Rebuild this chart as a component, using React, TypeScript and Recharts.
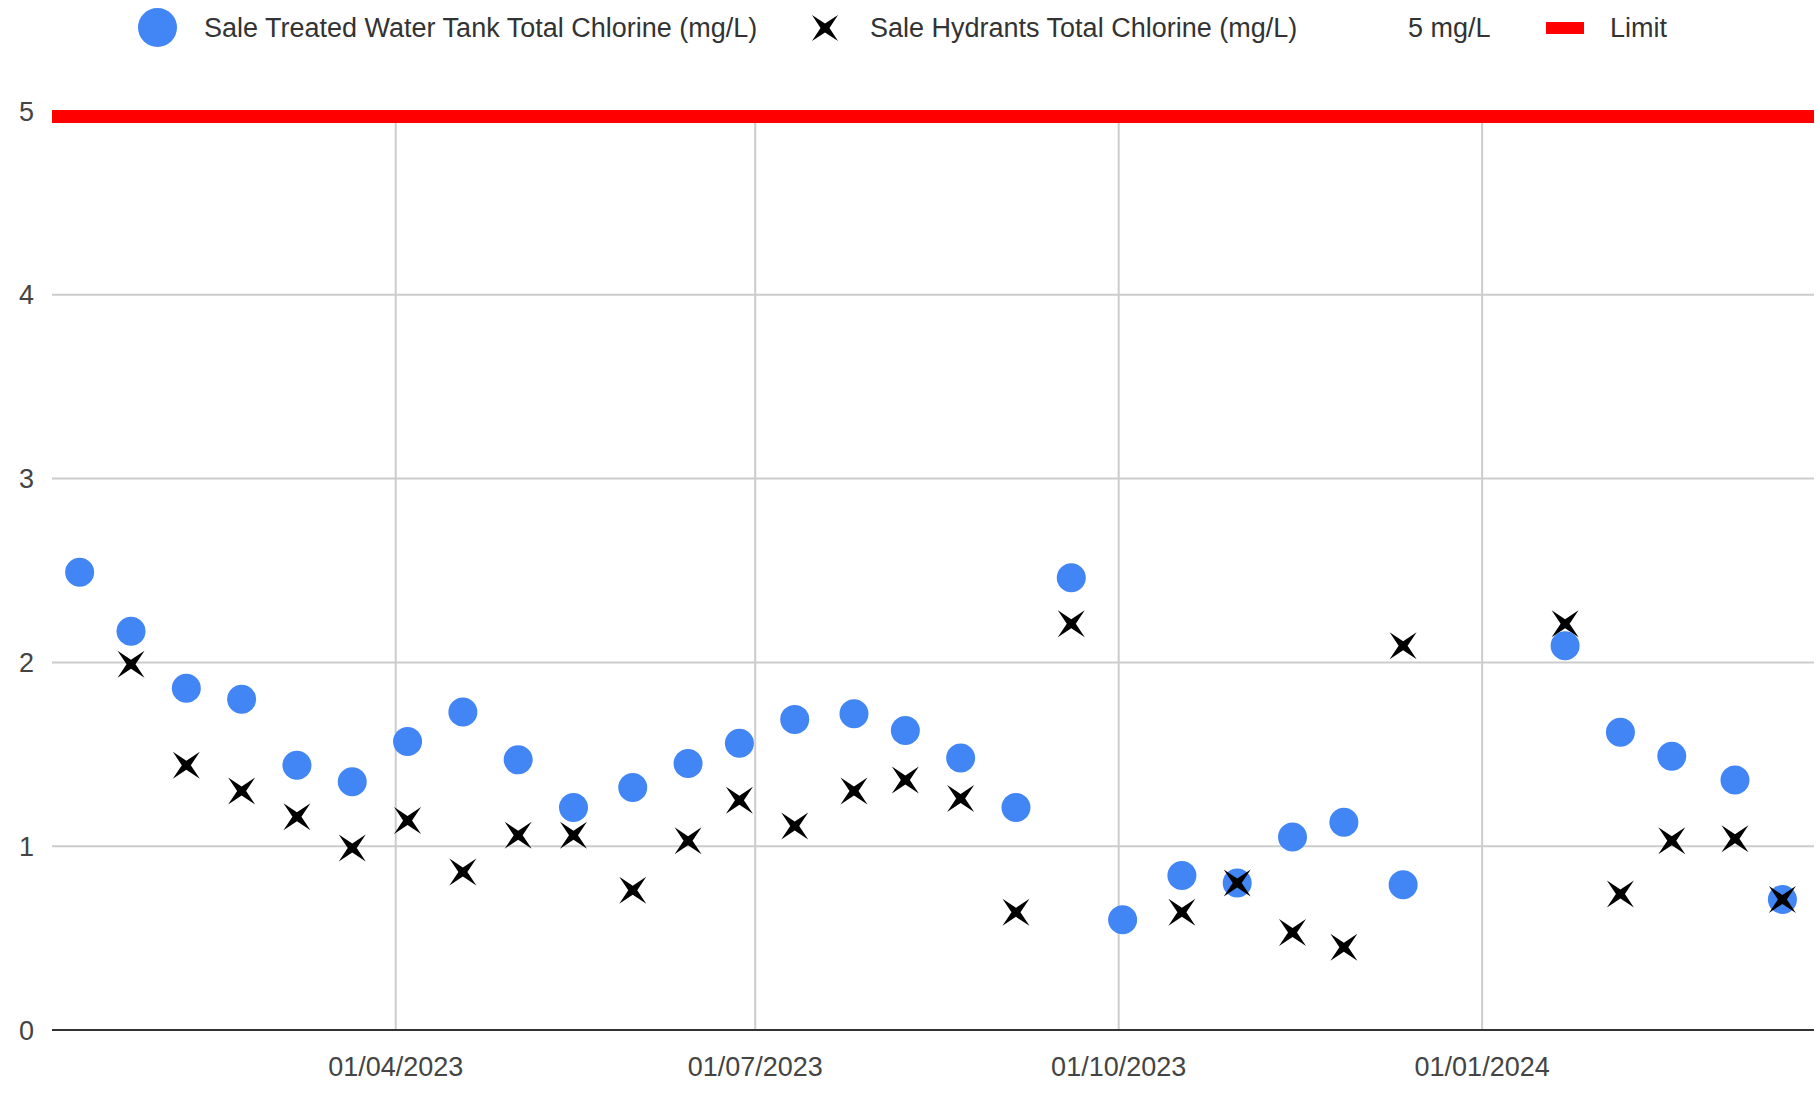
import React from "react";
import {
  ScatterChart,
  Scatter,
  XAxis,
  YAxis,
  CartesianGrid,
  ReferenceLine,
} from "recharts";

// sampling dates (biweekly)
const sampleDates = [
  "2023-01-11", "2023-01-24", "2023-02-07", "2023-02-21", "2023-03-07",
  "2023-03-21", "2023-04-04", "2023-04-18", "2023-05-02", "2023-05-16",
  "2023-05-31", "2023-06-14", "2023-06-27", "2023-07-11", "2023-07-26",
  "2023-08-08", "2023-08-22", "2023-09-05", "2023-09-19", "2023-10-02",
  "2023-10-17", "2023-10-31", "2023-11-14", "2023-11-27", "2023-12-12",
  "2024-01-22", "2024-02-05", "2024-02-18", "2024-03-05", "2024-03-17",
];

// Sale Treated Water Tank Total Chlorine (mg/L)
const tankChlorine = [
  2.49, 2.17, 1.86, 1.8, 1.44, 1.35, 1.57, 1.73, 1.47, 1.21,
  1.32, 1.45, 1.56, 1.69, 1.72, 1.63, 1.48, 1.21, 2.46, 0.6,
  0.84, 0.8, 1.05, 1.13, 0.79, 2.09, 1.62, 1.49, 1.36, 0.71,
];

// Sale Hydrants Total Chlorine (mg/L), null = no sample
const hydrantChlorine = [
  null, 1.99, 1.44, 1.3, 1.16, 0.99, 1.14, 0.86, 1.06, 1.06,
  0.76, 1.03, 1.25, 1.11, 1.3, 1.36, 1.26, 0.64, 2.21, null,
  0.64, 0.8, 0.53, 0.45, 2.09, 2.21, 0.74, 1.03, 1.04, 0.71,
];

const LIMIT = 5;
const xTickDates = ["2023-04-01", "2023-07-01", "2023-10-01", "2024-01-01"];
const yTicks = [0, 1, 2, 3, 4, 5];
const X_START = "2023-01-04";
const X_END = "2024-03-25";

const toTime = (s: string) => {
  const [y, m, d] = s.split("-").map(Number);
  return Date.UTC(y, m - 1, d);
};

const pad = (n: number) => (n < 10 ? "0" + n : "" + n);
const fmtDate = (t: number) => {
  const d = new Date(t);
  return `${pad(d.getUTCDate())}/${pad(d.getUTCMonth() + 1)}/${d.getUTCFullYear()}`;
};

const tankData = sampleDates.map((s, i) => ({ t: toTime(s), v: tankChlorine[i] }));
const hydrantData = sampleDates
  .map((s, i) => ({ t: toTime(s), v: hydrantChlorine[i] }))
  .filter((d) => d.v !== null);

const BLUE = "#4285F4";
const FONT = "'Liberation Sans', Arial, sans-serif";

const starPath = (a: number, w: number) =>
  `M${-a},${-a} L0,${-w} L${a},${-a} L${w},0 L${a},${a} L0,${w} L${-a},${a} L${-w},0 Z`;

const Dot = (props: any) => {
  const { cx, cy } = props;
  if (cx == null || cy == null) return null;
  return <circle cx={cx} cy={cy} r={14.5} fill={BLUE} />;
};

const Cross = (props: any) => {
  const { cx, cy } = props;
  if (cx == null || cy == null) return null;
  return <path d={starPath(13.5, 4.5)} transform={`translate(${cx},${cy})`} fill="#000" />;
};

// thick limit bar, hangs just below the 5 line like the original
const LimitBar = (props: any) => {
  const { x1, x2, y1 } = props;
  if (x1 == null || y1 == null) return null;
  return <rect x={Math.min(x1, x2)} y={y1 - 1} width={Math.abs(x2 - x1)} height={13} fill="#ff0000" />;
};

// vertical grid only at the quarter ticks (no lines on the plot edges)
const quarterLines = ({ offset }: any) => {
  const t0 = toTime(X_START);
  const t1 = toTime(X_END);
  return xTickDates.map((d) => offset.left + ((toTime(d) - t0) / (t1 - t0)) * offset.width);
};

const legendText: React.CSSProperties = {
  position: "absolute",
  top: 13,
  fontSize: 27,
  lineHeight: "30px",
  color: "#333",
  whiteSpace: "nowrap",
};

function ChartLegend() {
  return (
    <div style={{ position: "absolute", left: 0, top: 0, width: 1820, height: 60 }}>
      <div
        style={{
          position: "absolute",
          left: 138,
          top: 8,
          width: 39,
          height: 39,
          borderRadius: "50%",
          background: BLUE,
        }}
      />
      <span style={{ ...legendText, left: 204 }}>Sale Treated Water Tank Total Chlorine (mg/L)</span>
      <svg style={{ position: "absolute", left: 811, top: 14 }} width={28} height={28}>
        <path d={starPath(13, 4.5)} transform="translate(14,14)" fill="#000" />
      </svg>
      <span style={{ ...legendText, left: 870 }}>Sale Hydrants Total Chlorine (mg/L)</span>
      <span style={{ ...legendText, left: 1408 }}>5 mg/L</span>
      <div
        style={{
          position: "absolute",
          left: 1546,
          top: 22,
          width: 38,
          height: 12,
          background: "#ff0000",
        }}
      />
      <span style={{ ...legendText, left: 1610 }}>Limit</span>
    </div>
  );
}

export default function App() {
  return (
    <div
      style={{
        position: "absolute",
        left: 0,
        top: 0,
        width: 1820,
        height: 1094,
        background: "#fff",
        fontFamily: FONT,
      }}
    >
      <ChartLegend />
      <ScatterChart width={1820} height={1094} margin={{ top: 111, right: 6, bottom: 0, left: 0 }}>
        <CartesianGrid stroke="#cccccc" strokeWidth={2} verticalCoordinatesGenerator={quarterLines} />
        <XAxis
          type="number"
          dataKey="t"
          domain={[toTime(X_START), toTime(X_END)]}
          ticks={xTickDates.map(toTime)}
          tickFormatter={fmtDate}
          height={64}
          tickLine={false}
          tickSize={0}
          tickMargin={27}
          axisLine={{ stroke: "#333", strokeWidth: 2 }}
          tick={{ fill: "#444", fontSize: 27, fontFamily: FONT }}
          allowDataOverflow
        />
        <YAxis
          type="number"
          dataKey="v"
          domain={[0, 5]}
          ticks={yTicks}
          width={52}
          tickLine={false}
          tickSize={0}
          tickMargin={18}
          axisLine={false}
          tick={{ fill: "#444", fontSize: 27, fontFamily: FONT }}
        />
        <ReferenceLine y={LIMIT} shape={LimitBar} />
        <Scatter data={tankData} shape={Dot} isAnimationActive={false} />
        <Scatter data={hydrantData} shape={Cross} isAnimationActive={false} />
      </ScatterChart>
    </div>
  );
}
